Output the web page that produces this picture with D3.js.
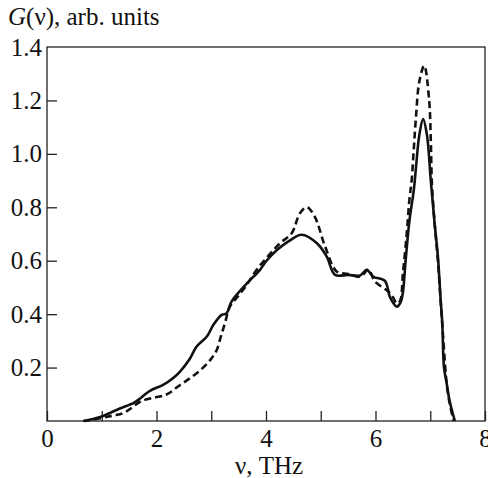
<!DOCTYPE html>
<html>
<head>
<meta charset="utf-8">
<style>
  body { margin: 0; background: #fff; }
  svg text { font-family: "Liberation Serif", "DejaVu Serif", serif; fill: #111; }
</style>
</head>
<body>
<svg id="chart" width="488" height="478"></svg>
<script src="https://d3js.org/d3.v7.min.js"></script>
<script>
// frequency (THz) and G(nu)
var solidNu = [0.69, 0.97, 1.15, 1.33, 1.6, 1.88, 2.12, 2.3, 2.43, 2.6, 2.73, 2.92, 3.04, 3.19, 3.28, 3.37,
  3.65, 3.89, 4.01, 4.2, 4.41, 4.65, 4.93, 5.11, 5.26, 5.5, 5.72, 5.84, 5.96, 6.17, 6.26, 6.33, 6.39,
  6.46, 6.5, 6.55, 6.62, 6.7, 6.74, 6.8, 6.87, 6.94, 7.01, 7.08, 7.14, 7.19, 7.22, 7.25, 7.3, 7.35, 7.45];
var solidG = [0.0, 0.015, 0.03, 0.047, 0.07, 0.113, 0.135, 0.16, 0.185, 0.23, 0.278, 0.316, 0.36, 0.397, 0.403, 0.447,
  0.515, 0.566, 0.6, 0.64, 0.672, 0.697, 0.665, 0.615, 0.547, 0.547, 0.545, 0.566, 0.54, 0.525, 0.466, 0.44, 0.428,
  0.445, 0.48, 0.6, 0.75, 0.865, 0.95, 1.07, 1.13, 1.07, 0.9, 0.74, 0.615, 0.453, 0.366, 0.203, 0.141, 0.079, 0.0];

var dashNu = [0.66, 0.97, 1.2, 1.39, 1.55, 1.7, 1.9, 2.19, 2.4, 2.61, 2.8, 2.98, 3.1, 3.18, 3.25, 3.34,
  3.5, 3.65, 3.83, 4.05, 4.26, 4.47, 4.62, 4.75, 4.89, 5.08, 5.29, 5.5, 5.72, 5.87, 5.99, 6.2, 6.3, 6.39,
  6.45, 6.5, 6.57, 6.62, 6.66, 6.7, 6.74, 6.8, 6.89, 6.98, 7.01, 7.03, 7.08, 7.14, 7.19, 7.24, 7.3, 7.36, 7.43];
var dashG = [0.0, 0.01, 0.02, 0.029, 0.05, 0.072, 0.085, 0.1, 0.13, 0.16, 0.19, 0.228, 0.266, 0.32, 0.366, 0.428,
  0.47, 0.51, 0.566, 0.62, 0.666, 0.703, 0.778, 0.8, 0.765, 0.653, 0.56, 0.55, 0.54, 0.566, 0.522, 0.49, 0.47, 0.44,
  0.45, 0.55, 0.7, 0.83, 0.9, 1.02, 1.14, 1.27, 1.33, 1.2, 1.05, 0.89, 0.74, 0.6, 0.45, 0.3, 0.14, 0.06, 0.0];

var xTicks = [0, 2, 4, 6, 8];
var yTicks = [0.2, 0.4, 0.6, 0.8, 1.0, 1.2, 1.4];

var svg = d3.select("#chart"),
    x0 = 47, x1 = 485, y0 = 47, y1 = 421;

var x = d3.scaleLinear().domain([0, 8]).range([x0, x1]);
var y = d3.scaleLinear().domain([0, 1.4]).range([y1, y0]);

// frame
svg.append("rect")
  .attr("x", x0).attr("y", y0)
  .attr("width", x1 - x0).attr("height", y1 - y0)
  .attr("fill", "none").attr("stroke", "#222").attr("stroke-width", 1.3);

// x ticks, inward, every 1 THz
var xAxis = d3.axisBottom(x).tickValues(d3.range(0, 9)).tickSize(-10)
  .tickFormat(function(d) { return xTicks.indexOf(d) >= 0 ? d : ""; });
var gx = svg.append("g").attr("transform", "translate(0," + y1 + ")").call(xAxis);
gx.select(".domain").remove();
gx.selectAll("line").attr("stroke", "#222").attr("stroke-width", 1.3);
gx.selectAll("text").attr("y", 26).attr("dy", null).style("font-size", "25px").attr("fill", "#111");

// y ticks, inward
var yAxis = d3.axisLeft(y).tickValues(yTicks).tickSize(-10).tickPadding(5)
  .tickFormat(d3.format(".1f"));
var gy = svg.append("g").attr("transform", "translate(" + x0 + ",0)").call(yAxis);
gy.select(".domain").remove();
gy.selectAll("line").attr("stroke", "#222").attr("stroke-width", 1.3)
  .filter(function(d) { return d === 1.4; }).remove();
gy.selectAll("text").style("font-size", "25px").attr("fill", "#111");

// axis titles
var yt = svg.append("text").attr("x", 8).attr("y", 25).style("font-size", "25px");
yt.append("tspan").style("font-style", "italic").text("G");
yt.append("tspan").text("(ν), arb. units");

svg.append("text").attr("x", (x0 + x1) / 2 + 3).attr("y", 474)
  .attr("text-anchor", "middle").style("font-size", "25px").text("ν, THz");

var line = d3.line()
  .x(function(d) { return x(d[0]); })
  .y(function(d) { return y(d[1]); })
  .curve(d3.curveCatmullRom.alpha(0.5));

svg.append("path")
  .datum(d3.zip(dashNu, dashG))
  .attr("d", line)
  .attr("fill", "none").attr("stroke", "#111").attr("stroke-width", 2.6)
  .attr("stroke-dasharray", "7,4");

svg.append("path")
  .datum(d3.zip(solidNu, solidG))
  .attr("d", line)
  .attr("fill", "none").attr("stroke", "#111").attr("stroke-width", 2.6);
</script>
</body>
</html>
